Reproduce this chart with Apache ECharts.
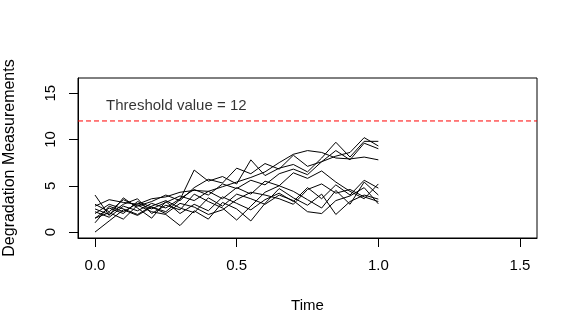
<!DOCTYPE html>
<html>
<head>
<meta charset="utf-8">
<script src="https://cdn.jsdelivr.net/npm/echarts@6/dist/echarts.min.js"></script>
<style>
  html, body { margin: 0; padding: 0; background: #fff; }
  #chart { width: 577px; height: 336px; }
</style>
</head>
<body>
<div id="chart"></div>
<script>
// 测量时间点 (0 ~ 1, 步长 0.05)
const times = [0, 0.05, 0.1, 0.15, 0.2, 0.25, 0.3, 0.35, 0.4, 0.45, 0.5,
               0.55, 0.6, 0.65, 0.7, 0.75, 0.8, 0.85, 0.9, 0.95, 1.0];

// 各样本的退化测量值
const path1 = [2.2, 1.6, 2.8, 2.3, 3.1, 2.6, 3.6, 4.6, 4.0, 5.2, 4.7, 5.6, 5.1, 6.3, 6.8, 6.2, 7.6, 8.2, 8.6, 10.2, 9.3];
const path2 = [1.5, 2.6, 2.0, 3.3, 2.7, 2.2, 3.5, 6.7, 5.5, 6.0, 5.2, 7.8, 6.1, 6.9, 7.3, 6.5, 8.0, 9.7, 8.1, 9.8, 9.8];
const path3 = [2.8, 3.5, 3.2, 3.0, 3.6, 3.8, 4.3, 4.5, 4.4, 4.9, 5.4, 5.9, 6.5, 7.5, 8.4, 8.8, 8.6, 8.0, 7.9, 8.1, 7.8];
const path4 = [3.0, 2.2, 3.5, 2.8, 3.3, 4.0, 3.4, 4.8, 5.7, 5.3, 6.9, 6.3, 7.4, 6.8, 8.3, 7.1, 7.6, 8.8, 7.8, 9.6, 9.0];
const path5 = [1.0, 2.8, 2.2, 3.1, 2.5, 3.2, 3.9, 3.4, 4.4, 3.6, 4.8, 4.1, 5.5, 5.0, 6.4, 5.8, 6.6, 5.4, 4.4, 3.6, 5.2];
const path6 = [4.0, 1.8, 3.7, 2.6, 1.5, 3.3, 2.0, 3.0, 2.3, 3.8, 3.1, 2.4, 3.5, 4.2, 3.3, 4.8, 3.6, 5.1, 4.0, 5.6, 4.75];
const path7 = [1.5, 2.1, 1.4, 2.9, 2.2, 1.9, 0.7, 2.3, 1.4, 3.2, 2.5, 1.2, 3.1, 4.7, 3.7, 2.9, 4.1, 1.9, 3.3, 4.0, 3.56];
const path8 = [2.0, 3.0, 2.5, 1.9, 2.8, 3.4, 2.6, 2.1, 3.7, 2.8, 4.1, 3.6, 3.0, 4.0, 3.4, 2.2, 2.0, 3.4, 3.9, 4.8, 3.05];
const path9 = [0.0, 1.2, 2.4, 1.8, 2.7, 2.0, 3.1, 2.7, 1.9, 2.4, 3.5, 4.3, 4.0, 3.6, 3.0, 4.6, 5.2, 4.2, 4.6, 3.8, 3.3];
const path10 = [2.5, 1.9, 3.0, 3.6, 2.0, 2.9, 2.4, 4.1, 3.3, 2.6, 1.3, 2.8, 4.3, 5.0, 4.4, 3.5, 2.6, 4.5, 3.0, 5.4, 4.0];
const paths = [path1, path2, path3, path4, path5, path6, path7, path8, path9, path10];

// 坐标轴刻度
const xTicks = [0, 0.5, 1.0, 1.5];
const yTicks = [0, 5, 10, 15];
const xRange = [-0.06, 1.56];
const yRange = [-0.64, 16.64];

// 阈值
const threshold = 12;
const thresholdText = 'Threshold value = 12';
const thresholdTextPos = [0.287, 13.6];

const FONT = 'Liberation Sans, Arial, sans-serif';

const chart = echarts.init(document.getElementById('chart'), null, { renderer: 'canvas' });

// 每条退化路径一条折线
const pathSeries = paths.map((vals, i) => ({
    name: 'path' + (i + 1),
    type: 'line',
    data: times.map((t, j) => [t, vals[j]]),
    symbol: 'none',
    lineStyle: { color: '#000', width: 1 },
    silent: true
}));

const option = {
    animation: false,
    backgroundColor: '#fff',
    grid: {
        left: 78, right: 40, top: 78, bottom: 98,
        outerBoundsMode: 'none',
        containLabel: false,
        show: true, borderColor: '#000', borderWidth: 1,
        backgroundColor: 'transparent'
    },
    xAxis: {
        type: 'value',
        min: xRange[0], max: xRange[1],
        name: 'Time',
        nameLocation: 'middle',
        nameGap: 60,
        nameTextStyle: { color: '#000', fontSize: 15, fontFamily: FONT },
        axisLine: { show: true, onZero: false, lineStyle: { color: '#000', width: 1 } },
        splitLine: { show: false },
        axisTick: { show: true, inside: false, length: 9, customValues: xTicks, lineStyle: { color: '#000', width: 1 } },
        axisLabel: {
            customValues: xTicks, margin: 20,
            color: '#000', fontSize: 15, fontFamily: FONT,
            formatter: v => v.toFixed(1)
        }
    },
    yAxis: {
        type: 'value',
        min: yRange[0], max: yRange[1],
        name: 'Degradation Measurements',
        nameLocation: 'middle',
        nameGap: 60,
        nameTextStyle: { color: '#000', fontSize: 16, fontFamily: FONT },
        axisLine: { show: true, onZero: false, lineStyle: { color: '#000', width: 1 } },
        splitLine: { show: false },
        axisTick: { show: true, inside: false, length: 9, customValues: yTicks, lineStyle: { color: '#000', width: 1 } },
        axisLabel: {
            customValues: yTicks, margin: 20, rotate: 90,
            color: '#000', fontSize: 15, fontFamily: FONT,
            formatter: v => String(v)
        }
    },
    series: pathSeries.concat([
        {
            name: 'threshold',
            type: 'line',
            data: [[xRange[0], threshold], [xRange[1], threshold]],
            symbol: 'none',
            lineStyle: { color: '#ff0000', width: 1, type: [5, 3] },
            silent: true
        },
        {
            name: 'label',
            type: 'scatter',
            data: [thresholdTextPos],
            symbolSize: 0,
            label: {
                show: true, position: 'inside',
                formatter: thresholdText,
                color: '#000', fontSize: 15, fontFamily: FONT
            },
            silent: true
        }
    ])
};

chart.setOption(option);
</script>
</body>
</html>
